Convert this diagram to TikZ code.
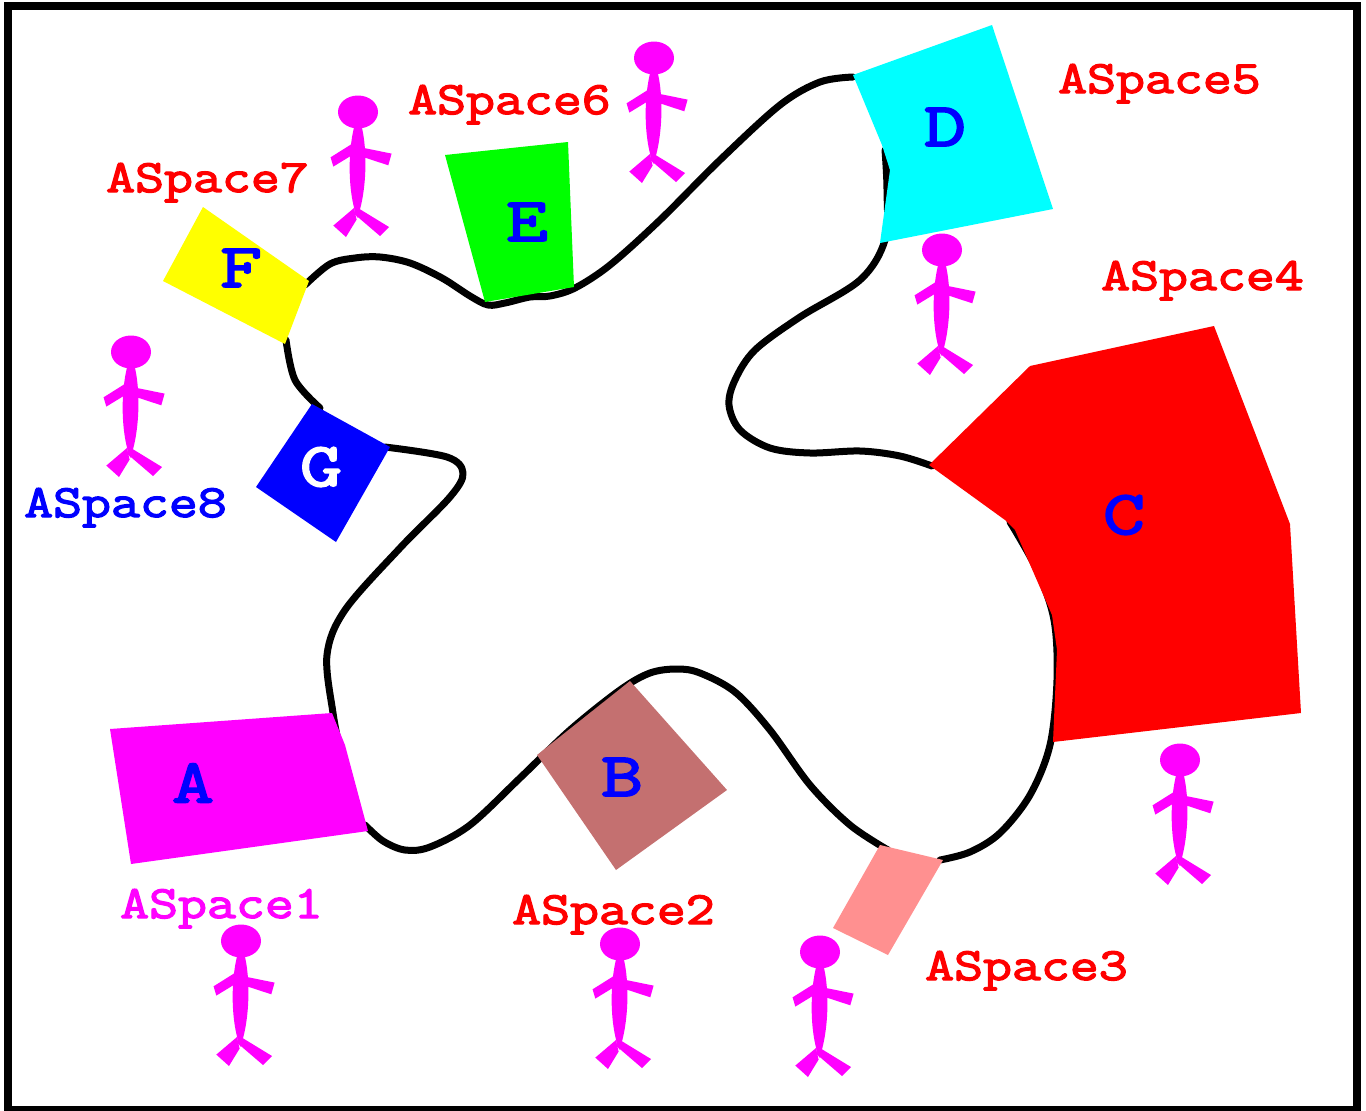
\documentclass[tikz,border=0pt]{standalone}
\usepackage{fontspec}
\newfontfamily\lblfont[FakeBold=3,FakeStretch=1.216]{Latin Modern Mono}
\newfontfamily\letfont[FakeBold=3,FakeStretch=1.32]{Latin Modern Mono}
\definecolor{puremag}{RGB}{255,0,255}
\definecolor{purecyan}{RGB}{0,255,255}
\definecolor{pureyel}{RGB}{255,255,0}
\definecolor{roseb}{RGB}{196,112,112}
\definecolor{pinkc}{RGB}{255,144,144}
\tikzset{
  x=1pt,y=-1pt,
  labeltext/.style={font=\fontsize{46.2}{48}\lblfont,anchor=base west,inner sep=0pt},
  lettertext/.style={font=\fontsize{62}{64}\letfont,text=blue,inner sep=0pt},
  blobline/.style={black,line width=7pt,line cap=round,line join=round},
  person/.pic={
    \fill[puremag] (0,0) ellipse [x radius=20,y radius=16.5];
    \fill[puremag] (0,2.6) .. controls (-11,30) and (-11,80) .. (-0.7,106) .. controls (9,80) and (11,30) .. (0,2.6) -- cycle;
    \fill[puremag] (-27.4,45.3) -- (-4,30.6) -- (-2.4,41) -- (-24.7,54.6) -- cycle;
    \fill[puremag] (-2.4,34.3) -- (33.6,41.6) -- (30.3,53.3) -- (-2.4,42.6) -- cycle;
    \fill[puremag] (-4,96) -- (-1.4,107.6) -- (-12,125) -- (-24.7,113.6) -- cycle;
    \fill[puremag] (-4,93.6) -- (31,115) -- (22,124) -- (-3,102.6) -- cycle;
  }
}
\begin{document}
\begin{tikzpicture}
\useasboundingbox (0,0) rectangle (1366,1111);
\draw[black,line width=8pt] (8,6) rectangle (1357,1110);
\draw[blobline] plot[smooth,tension=0.55] coordinates {
(340,750)(333,713)(327,655)(345,610)(400,548)(450,497)(463,473)(447,457)(385,447)};
\draw[blobline] plot[smooth,tension=0.55] coordinates {(320,408)(295,380)(286,340)};
\draw[blobline] plot[smooth,tension=0.55] coordinates {
(305,285)(330,264)(355,258)(380,257)(410,263)(442,278)(470,296)(488,305)(505,303)(530,297)(550,296)(575,288)(610,265)(660,220)(720,160)(780,105)(820,82)(853,77)};
\draw[blobline] plot[smooth,tension=0.55] coordinates {
(885,150)(887,190)(885,240)(860,280)(800,317)(755,350)(735,380)(729,405)(740,430)(770,448)(810,453)(860,451)(900,456)(932,466)};
\draw[blobline] plot[smooth,tension=0.55] coordinates {
(1010,522)(1037,570)(1054,620)(1057,680)(1050,745)(1030,795)(1000,833)(970,852)(940,860)};
\draw[blobline] plot[smooth,tension=0.55] coordinates {
(888,850)(850,825)(810,785)(770,730)(735,692)(700,673)(677,669)(650,673)(620,690)(570,730)(520,778)(470,825)(430,847)(405,850)(383,841)(365,825)};
\fill[puremag] (110,729) -- (332,713) -- (345,745) -- (368,831) -- (131,864) -- cycle;
\fill[roseb] (630,681) -- (727,790) -- (616,870) -- (537,755) -- cycle;
\fill[pinkc] (880,845) -- (943,860) -- (888,955) -- (833,928) -- cycle;
\fill[red] (929,465) -- (1030,366) -- (1214,326) -- (1290,524) -- (1301,713) -- (1053,742) -- (1057,650) -- (1052,615) -- (1015,530) -- (1005,520) -- cycle;
\fill[purecyan] (853,75) -- (992,25) -- (1053,209) -- (880,243) -- (890,170) -- (882,145) -- cycle;
\fill[green] (445,155) -- (568,142) -- (574,287) -- (485,302) -- cycle;
\fill[pureyel] (203,207) -- (309,281) -- (285,344) -- (163,281) -- cycle;
\fill[blue] (312,404) -- (390,447) -- (336,542) -- (256,487) -- cycle;
\node[lettertext] (la) at (193,783) {A};
\node[lettertext] (lb) at (622,777) {B};
\node[lettertext] (lc) at (1124,515) {C};
\node[lettertext] (ld) at (945,127) {D};
\node[lettertext] (le) at (527,222) {E};
\node[lettertext] (lf) at (241,268) {F};
\node[lettertext,text=white] (lg) at (321,467) {G};
\node[labeltext,text=puremag] (s1) at (120,918) {ASpace1};
\node[labeltext,text=red] (s2) at (512,924) {ASpace2};
\node[labeltext,text=red] (s3) at (925,980) {ASpace3};
\node[labeltext,text=red] (s4) at (1101,290) {ASpace4};
\node[labeltext,text=red] (s5) at (1058,93) {ASpace5};
\node[labeltext,text=red] (s6) at (408,114) {ASpace6};
\node[labeltext,text=red] (s7) at (106,192) {ASpace7};
\node[labeltext,text=blue] (s8) at (24,517) {ASpace8};
\pic at (241,941) {person};
\pic at (620,944) {person};
\pic at (820,952) {person};
\pic at (1180,760) {person};
\pic at (942,250) {person};
\pic at (654,58) {person};
\pic at (358,112) {person};
\pic at (131,352) {person};
\end{tikzpicture}
\end{document}
